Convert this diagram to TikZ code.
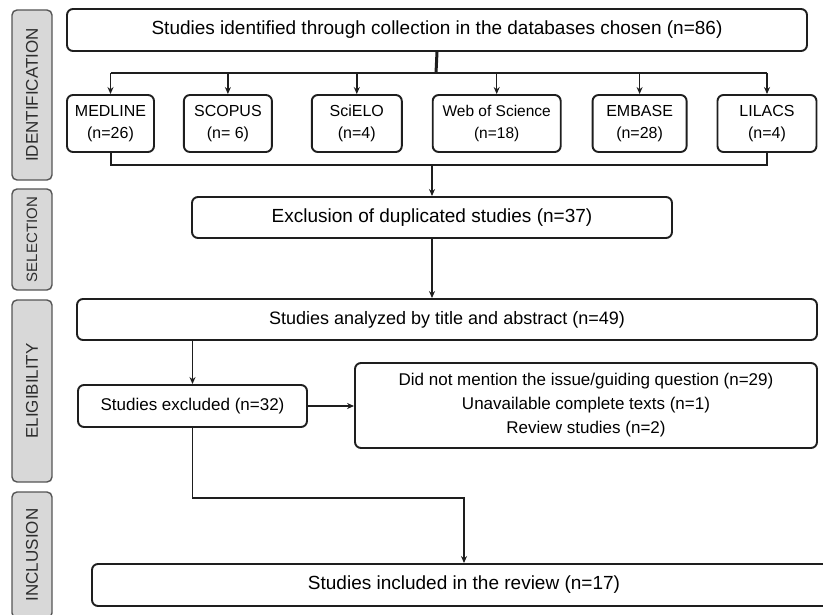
\documentclass[tikz,border=0pt]{standalone}
\usepackage{fontspec}
\setmainfont{Liberation Sans}
\usepackage{tikz}
\usetikzlibrary{arrows,arrows.meta,shapes,positioning}
\definecolor{prline}{RGB}{30,30,30}
\definecolor{prstage}{RGB}{216,216,216}
\definecolor{prstagedraw}{RGB}{85,85,85}
\definecolor{prstagetext}{RGB}{45,45,45}
\tikzstyle{arrow} = [line width=1.5pt,->,>={Stealth[length=7pt,width=6pt]},color=prline]
\tikzstyle{busline} = [line width=2pt,color=prline]
\tikzstyle{trunk} = [line width=3pt,color=prline]
\tikzstyle{stage} = [rectangle, rounded corners=5pt, rotate=90, minimum height=40pt, draw=prstagedraw, fill=prstage, text=prstagetext, line width=1.4pt, inner sep=0pt, font=\fontsize{17}{20}\selectfont]
\tikzstyle{process} = [rectangle, rounded corners=6pt, draw=prline, fill=white, line width=1.9pt, inner sep=0pt, align=center]
\tikzstyle{database} = [process, minimum height=57pt, font=\fontsize{16}{22}\selectfont]

\begin{document}
\begin{tikzpicture}[x=1pt, y=1pt]
\useasboundingbox (0,0) rectangle (823,-615);
% Stages
\node (ident) [stage, minimum width=170pt] at (32,-95) {IDENTIFICATION};
\node (select) [stage, minimum width=101pt, font=\fontsize{15}{18}\selectfont] at (32,-239.5) {SELECTION};
\node (elig) [stage, minimum width=182pt] at (32,-391) {ELIGIBILITY};
\node (incl) [stage, minimum width=126pt] at (32,-555) {INCLUSION};

% Identification
\node (top) [process, minimum width=740pt, minimum height=42pt, font=\fontsize{19}{22}\selectfont] at (437,-30) {Studies identified through collection in the databases chosen (n=86)};
\node (medline) [database, minimum width=87pt] at (110.5,-123.5) {MEDLINE\\(n=26)};
\node (scopus) [database, minimum width=88pt, right=28pt of medline] {SCOPUS\\(n= 6)};
\node (scielo) [database, minimum width=90pt, right=38pt of scopus] {SciELO\\(n=4)};
\node (wos) [database, minimum width=128pt, right=29pt of scielo, font=\fontsize{15.5}{22}\selectfont] {Web of Science\\(n=18)};
\node (embase) [database, minimum width=94pt, right=30pt of wos] {EMBASE\\(n=28)};
\node (lilacs) [database, minimum width=99pt, right=29pt of embase] {LILACS\\(n=4)};
\coordinate (split) at (436,-73);
\coordinate (merge) at (432,-165);

\draw[trunk] (top.south) -- (split);
\draw[busline] (medline.north |- split) -- (lilacs.north |- split);
\foreach \db in {medline,scopus,scielo,wos,embase,lilacs}
  \draw[arrow] (\db.north |- split) -- (\db.north);
\draw[busline] (medline.south) -- (medline.south |- merge) -- (lilacs.south |- merge) -- (lilacs.south);

% Selection
\node (dup) [process, minimum width=480pt, minimum height=41pt, font=\fontsize{19}{22}\selectfont] at (432,-217.5) {Exclusion of duplicated studies (n=37)};
\draw[arrow] (merge) -- (dup.north);

% Eligibility
\node (analyzed) [process, minimum width=740pt, minimum height=41pt, font=\fontsize{18}{22}\selectfont] at (447,-319.5) {Studies analyzed by title and abstract (n=49)};
\node (excluded) [process, minimum width=229pt, minimum height=42pt, font=\fontsize{17}{22}\selectfont] at (192.5,-406) {Studies excluded (n=32)};
\node (reasons) [process, minimum width=462pt, minimum height=85pt, font=\fontsize{17}{24}\selectfont] at (586,-405.5) {Did not mention the issue/guiding question (n=29)\\Unavailable complete texts (n=1)\\Review studies (n=2)};
\draw[arrow] (dup.south) -- (dup.south |- analyzed.north);
\draw[arrow] (analyzed.south -| excluded.north) -- (excluded.north);
\draw[arrow] (excluded.east) -- (excluded.east -| reasons.west);

% Inclusion
\node (included) [process, minimum width=744pt, minimum height=42pt, font=\fontsize{19}{22}\selectfont] at (464,-585) {Studies included in the review (n=17)};
\coordinate (bend) at (464,-498);
\draw[arrow] (excluded.south) |- (bend) -- (included.north);
\end{tikzpicture}
\end{document}
